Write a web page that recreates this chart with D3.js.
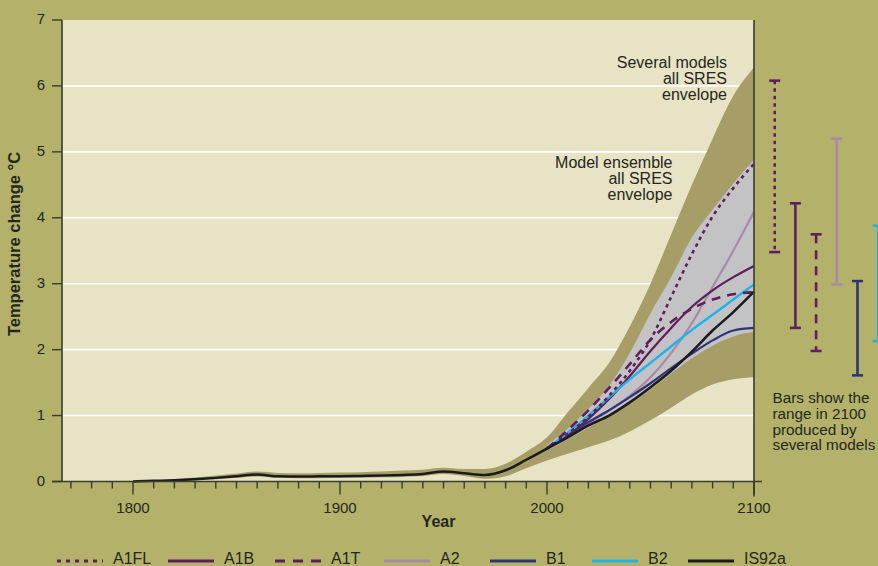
<!DOCTYPE html>
<html>
<head>
<meta charset="utf-8">
<script src="https://cdn.jsdelivr.net/npm/d3@7"></script>
<style>
  html, body { margin: 0; padding: 0; background: #b4b26a; }
  svg { display: block; }
  text { font-family: "Liberation Sans", Arial, Helvetica, sans-serif; fill: #262620; }
</style>
</head>
<body>
<svg id="chart" width="878" height="566"></svg>
<script>
// Observed and projected global mean temperature change, 1800-2100 (°C)
const years = [1800, 1810, 1820, 1830, 1840, 1850, 1860, 1870, 1880, 1890, 1900,
               1910, 1920, 1930, 1940, 1950, 1960, 1970, 1980, 1990, 2000,
               2010, 2020, 2030, 2040, 2050, 2060, 2070, 2080, 2090, 2100];
// "Several models, all SRES" envelope
const outerHigh = [0.0, 0.015, 0.035, 0.06, 0.09, 0.12, 0.15, 0.13, 0.125, 0.13, 0.135,
                   0.14, 0.15, 0.165, 0.18, 0.21, 0.19, 0.19, 0.27, 0.45, 0.67,
                   1.05, 1.42, 1.8, 2.35, 3.0, 3.75, 4.5, 5.2, 5.85, 6.28];
const outerLow  = [0.0, 0.0, 0.01, 0.02, 0.035, 0.055, 0.075, 0.055, 0.05, 0.05, 0.055,
                   0.06, 0.065, 0.07, 0.085, 0.115, 0.085, 0.04, 0.08, 0.2, 0.32,
                   0.42, 0.52, 0.62, 0.76, 0.93, 1.12, 1.32, 1.47, 1.55, 1.58];
const is92a     = [0.0, 0.01, 0.02, 0.035, 0.055, 0.08, 0.105, 0.078, 0.075, 0.078, 0.08,
                   0.085, 0.09, 0.1, 0.115, 0.15, 0.125, 0.1, 0.17, 0.33, 0.5,
                   0.67, 0.85, 1.0, 1.2, 1.43, 1.68, 1.97, 2.29, 2.57, 2.88];

// SRES scenario projections, 2000-2100
const scenarioYears = [2000, 2010, 2020, 2030, 2040, 2050, 2060, 2070, 2080, 2090, 2100];
const innerHigh = [0.55, 0.8, 1.1, 1.45, 1.95, 2.55, 3.1, 3.7, 4.12, 4.52, 4.88];
const innerLow  = [0.47, 0.64, 0.82, 0.99, 1.18, 1.4, 1.64, 1.87, 2.06, 2.2, 2.27];
const a1fl = [0.5, 0.72, 0.98, 1.3, 1.68, 2.15, 2.8, 3.45, 4.02, 4.45, 4.82];
const a1b  = [0.5, 0.7, 0.95, 1.25, 1.6, 1.98, 2.33, 2.65, 2.9, 3.1, 3.27];
const a1t  = [0.5, 0.78, 1.08, 1.42, 1.78, 2.15, 2.42, 2.62, 2.76, 2.84, 2.87];
const a2   = [0.5, 0.68, 0.88, 1.08, 1.3, 1.58, 1.95, 2.4, 2.95, 3.5, 4.09];
const b1   = [0.5, 0.7, 0.9, 1.08, 1.28, 1.49, 1.72, 1.94, 2.14, 2.29, 2.33];
const b2   = [0.5, 0.74, 1.0, 1.28, 1.55, 1.8, 2.05, 2.3, 2.53, 2.76, 2.99];

// Range in 2100 produced by several models
const barSeries = ["A1FL", "A1B", "A1T", "A2", "B1", "B2"];
const barLow  = [3.48, 2.33, 1.98, 2.99, 1.61, 2.13];
const barHigh = [6.08, 4.22, 3.75, 5.2, 3.04, 3.88];

const yTicks = [0, 1, 2, 3, 4, 5, 6, 7];
const xLabelTicks = [1800, 1900, 2000, 2100];
const legendNames = ["A1FL", "A1B", "A1T", "A2", "B1", "B2", "IS92a"];

// ---- styling ----
const styles = {
  A1FL:  { color: "#5e1f5c", dash: "3.5,4", width: 2.6 },
  A1B:   { color: "#5e1f5c", dash: null, width: 2.2 },
  A1T:   { color: "#5e1f5c", dash: "9,7", width: 2.6 },
  A2:    { color: "#a98aa6", dash: null, width: 2.2 },
  B1:    { color: "#2f3472", dash: null, width: 2.2 },
  B2:    { color: "#1db4ea", dash: null, width: 2.4 },
  IS92a: { color: "#1b1b1b", dash: null, width: 2.5 }
};

const svg = d3.select("#chart");
const plotLeft = 62, plotRight = 754, plotTop = 20, plotBottom = 481.5;

const x = d3.scaleLinear().domain([1800, 2100]).range([133, plotRight]);
const y = d3.scaleLinear().domain([0, 7]).range([plotBottom, plotTop]);

// plot background
svg.append("rect")
  .attr("x", plotLeft).attr("y", plotTop)
  .attr("width", plotRight - plotLeft).attr("height", plotBottom - plotTop)
  .attr("fill", "#e8e3c5");

// white gridlines
svg.append("g").selectAll("line")
  .data(yTicks.filter(d => d > 0 && d < 7))
  .join("line")
  .attr("x1", plotLeft).attr("x2", plotRight)
  .attr("y1", d => y(d)).attr("y2", d => y(d))
  .attr("stroke", "#ffffff").attr("stroke-width", 1.6);

const curve = d3.curveMonotoneX;

// outer envelope
const outerData = years.map((yr, i) => ({ yr, lo: outerLow[i], hi: outerHigh[i] }));
svg.append("path")
  .datum(outerData)
  .attr("d", d3.area().curve(curve).x(d => x(d.yr)).y0(d => y(d.lo)).y1(d => y(d.hi)))
  .attr("fill", "#a69e66");

// inner model-ensemble envelope
const innerData = scenarioYears.map((yr, i) => ({ yr, lo: innerLow[i], hi: innerHigh[i] }));
svg.append("path")
  .datum(innerData)
  .attr("d", d3.area().curve(curve).x(d => x(d.yr)).y0(d => y(d.lo)).y1(d => y(d.hi)))
  .attr("fill", "#c3c3c5");

// scenario lines
const line = d3.line().curve(curve).x(d => x(d[0])).y(d => y(d[1]));
const scenarios = [
  ["A2", a2], ["B1", b1], ["A1B", a1b], ["B2", b2], ["A1T", a1t], ["A1FL", a1fl]
];
scenarios.forEach(([name, vals]) => {
  const s = styles[name];
  svg.append("path")
    .datum(scenarioYears.map((yr, i) => [yr, vals[i]]))
    .attr("d", line)
    .attr("fill", "none")
    .attr("stroke", s.color)
    .attr("stroke-width", s.width)
    .attr("stroke-dasharray", s.dash);
});
// IS92a, including the observed record
svg.append("path")
  .datum(years.map((yr, i) => [yr, is92a[i]]))
  .attr("d", line)
  .attr("fill", "none")
  .attr("stroke", styles.IS92a.color)
  .attr("stroke-width", styles.IS92a.width);

// axes
const axisColor = "#3a3a30";
// left axis line
svg.append("line")
  .attr("x1", plotLeft).attr("x2", plotLeft)
  .attr("y1", plotTop).attr("y2", plotBottom)
  .attr("stroke", axisColor).attr("stroke-width", 1.6);
// right border line
svg.append("line")
  .attr("x1", plotRight).attr("x2", plotRight)
  .attr("y1", plotTop).attr("y2", plotBottom + 15)
  .attr("stroke", axisColor).attr("stroke-width", 1.6);
// bottom axis line
svg.append("line")
  .attr("x1", plotLeft - 10).attr("x2", plotRight + 8)
  .attr("y1", plotBottom).attr("y2", plotBottom)
  .attr("stroke", axisColor).attr("stroke-width", 1.6);

// y ticks and labels
const yg = svg.append("g");
yg.selectAll("line").data(yTicks).join("line")
  .attr("x1", plotLeft - 10).attr("x2", plotLeft)
  .attr("y1", d => y(d)).attr("y2", d => y(d))
  .attr("stroke", axisColor).attr("stroke-width", 1.4);
yg.selectAll("text").data(yTicks).join("text")
  .attr("x", plotLeft - 17).attr("y", d => y(d))
  .attr("dy", "0.28em")
  .attr("text-anchor", "end")
  .attr("font-size", 15)
  .text(d => d);

// x ticks (every 10 years) and labels
const minorTicks = d3.range(1770, 2101, 10);
const xg = svg.append("g");
xg.selectAll("line").data(minorTicks).join("line")
  .attr("x1", d => x(d)).attr("x2", d => x(d))
  .attr("y1", plotBottom)
  .attr("y2", d => xLabelTicks.includes(d) ? plotBottom + 13 : plotBottom + 7)
  .attr("stroke", axisColor).attr("stroke-width", 1.4);
xg.selectAll("text").data(xLabelTicks).join("text")
  .attr("x", d => x(d)).attr("y", 512.5)
  .attr("text-anchor", "middle")
  .attr("font-size", 15)
  .text(d => d);

// axis titles
svg.append("text")
  .attr("x", 438.5).attr("y", 527)
  .attr("text-anchor", "middle")
  .attr("font-size", 16).attr("font-weight", "bold")
  .text("Year");
svg.append("text")
  .attr("transform", "translate(20,244) rotate(-90)")
  .attr("text-anchor", "middle")
  .attr("font-size", 16.5).attr("font-weight", "bold")
  .text("Temperature change °C");

// envelope annotations
function multiline(lines, xPos, yPos, anchor, size) {
  const t = svg.append("text")
    .attr("x", xPos).attr("y", yPos)
    .attr("text-anchor", anchor)
    .attr("font-size", size);
  lines.forEach((s, i) => {
    t.append("tspan").attr("x", xPos).attr("dy", i === 0 ? 0 : 15.7).text(s);
  });
}
multiline(["Several models", "all SRES", "envelope"], 727, 68.3, "end", 16);
multiline(["Model ensemble", "all SRES", "envelope"], 672.5, 168.3, "end", 16);
multiline(["Bars show the", "range in 2100", "produced by", "several models"], 772.5, 403.3, "start", 15.3);

// range bars in 2100
const bx = d3.scalePoint().domain(barSeries).range([x(2110), x(2160)]);
barSeries.forEach((name, i) => {
  const s = styles[name];
  const g = svg.append("g");
  const cx = bx(name);
  g.append("line")
    .attr("x1", cx).attr("x2", cx)
    .attr("y1", y(barHigh[i])).attr("y2", y(barLow[i]))
    .attr("stroke", s.color).attr("stroke-width", 2.6)
    .attr("stroke-dasharray", s.dash);
  [barHigh[i], barLow[i]].forEach(v => {
    g.append("line")
      .attr("x1", cx - 5.5).attr("x2", cx + 5.5)
      .attr("y1", y(v)).attr("y2", y(v))
      .attr("stroke", s.color).attr("stroke-width", 2.6);
  });
});

// legend
const legendX = [57, 168, 275, 384, 490, 592, 688];
const lg = svg.append("g");
legendNames.forEach((name, i) => {
  const s = styles[name];
  lg.append("line")
    .attr("x1", legendX[i]).attr("x2", legendX[i] + 46)
    .attr("y1", 561).attr("y2", 561)
    .attr("stroke", s.color).attr("stroke-width", 3)
    .attr("stroke-dasharray", name === "A1FL" ? "4,5" : name === "A1T" ? "10,8" : null);
  lg.append("text")
    .attr("x", legendX[i] + 56).attr("y", 563.5)
    .attr("font-size", 16)
    .text(name);
});
</script>
</body>
</html>
